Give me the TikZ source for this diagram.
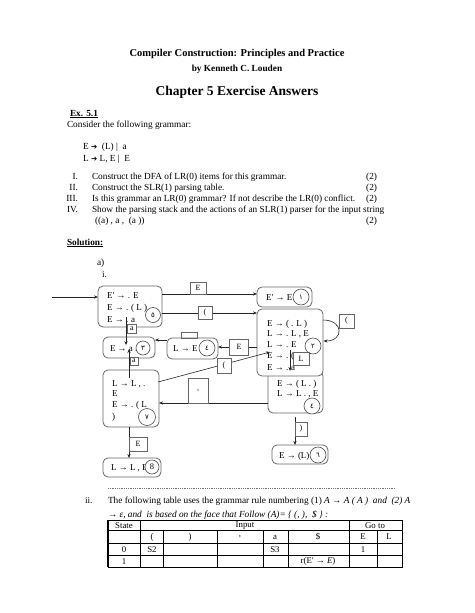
\documentclass[tikz,border=0pt]{standalone}
\usepackage{fontspec}
\setmainfont{Liberation Serif}
\newfontfamily\arabicfont[Script=Arabic]{DejaVu Sans}
\newfontfamily\symbfont{DejaVu Sans}
\usetikzlibrary{arrows.meta,calc}
\begin{document}
\begin{tikzpicture}[x=1pt,y=-1pt,
  every node/.style={inner sep=0pt,outer sep=0pt},
  body/.style={font=\fontsize{9.3}{11}\selectfont, anchor=base west},
  txt/.style={font=\fontsize{9}{10}\selectfont, anchor=base west},
  tcell/.style={font=\fontsize{8.8}{10}\selectfont, anchor=center},
  state/.style={draw=black!60, line width=0.8pt, rounded corners=5pt, fill=white, anchor=north west},
  num/.style={draw=black!70, line width=0.6pt, circle, fill=white, minimum size=15pt, font=\arabicfont\fontsize{7}{7}\selectfont},
  lbl/.style={draw=black!60, line width=0.6pt, fill=white, font=\fontsize{8}{8}\selectfont},
  conn/.style={draw=black!85, line width=0.6pt, -{Stealth[length=4pt,width=3.2pt]}},
]
\useasboundingbox (0,0) rectangle (474,613);
\fill[white] (0,0) rectangle (474,613);

% ---------- header ----------
\node[font=\bfseries\fontsize{10.5}{12}\selectfont, anchor=base] (title) at (237,56) {Compiler Construction: Principles and Practice};
\node[font=\bfseries\fontsize{9.3}{11}\selectfont, anchor=base] (author) at (237,71) {by Kenneth C. Louden};
\node[font=\bfseries\fontsize{13.5}{15}\selectfont, anchor=base] (chap) at (237,95) {Chapter 5 Exercise Answers};
\node[body, font=\bfseries\fontsize{9.3}{11}\selectfont] (ex) at (70,116) {\underline{Ex. 5.1}};
\node[body] (consider) at (67,127) {Consider the following grammar:};
\node[body] (g1) at (83,149) {E {\symbfont\fontsize{7.5}{8}\selectfont ➔} \ (L) | \ a};
\node[body] (g2) at (83,161) {L {\symbfont\fontsize{7.5}{8}\selectfont ➔} L, E | \ E};

\node[body, anchor=base east] (r1) at (78,179) {I.};
\node[body, anchor=base east] (r2) at (78,190) {II.};
\node[body, anchor=base east] (r3) at (78,201) {III.};
\node[body, anchor=base east] (r4) at (78,212) {IV.};
\node[body] (q1) at (92,179) {Construct the DFA of LR(0) items for this grammar.};
\node[body] (q2) at (92,190) {Construct the SLR(1) parsing table.};
\node[body] (q3) at (92,201) {Is this grammar an LR(0) grammar? If not describe the LR(0) conflict.};
\node[body] (q4) at (92,212) {Show the parsing stack and the actions of an SLR(1) parser for the input string};
\node[body] (q5) at (95,223) {((a) , a , \ (a ))};
\node[body, anchor=base east] (m1) at (377,179) {(2)};
\node[body, anchor=base east] (m2) at (377,190) {(2)};
\node[body, anchor=base east] (m3) at (377,201) {(2)};
\node[body, anchor=base east] (m4) at (377,223) {(2)};

\node[body, font=\bfseries\fontsize{9.3}{11}\selectfont] (sol) at (67,245) {\underline{Solution:}};
\node[body] (pa) at (97,265) {a)};
\node[body] (pi) at (102,277) {i.};

% ---------- states ----------
\node[state, minimum width=64pt, minimum height=41pt] (s0) at (98,286) {};
\node[txt] (s0a) at (107,298) {E′ → . E};
\node[txt] (s0b) at (107,310) {E → . ( L )};
\node[txt] (s0c) at (107,322) {E → . a};
\node[num, minimum size=15pt] (c0) at (153,315) {٥};

\node[state, minimum width=55pt, minimum height=20pt] (s1) at (257,287) {};
\node[txt] (s1a) at (266,300) {E′ → E};
\node[num, minimum size=16pt] (c1) at (301,297) {١};

\node[state, minimum width=55pt, minimum height=42pt] (s4) at (268,371) {};
\node[txt] (s4a) at (277,386) {E → ( L . )};
\node[txt] (s4b) at (277,396) {L → L . , E};
\node[num, minimum size=16pt] (c4) at (312,406) {٤};

\node[state, minimum width=66pt, minimum height=67pt] (s2) at (257,309) {};
\node[txt] (s2a) at (267,326) {E → ( . L )};
\node[txt] (s2b) at (267,336) {L → . L , E};
\node[txt] (s2c) at (267,347) {L → . E};
\node[txt] (s2d) at (267,358) {E → . ( L )};
\node[txt] (s2e) at (267,370) {E → . a};
\node[num, minimum size=16pt] (c2) at (313,346) {٢};

\node[state, minimum width=52pt, minimum height=21pt] (s3) at (103,337) {};
\node[txt] (s3a) at (110,351) {E → a .};
\node[num, minimum size=14pt] (c3) at (143,348) {٣};

\node[state, minimum width=51pt, minimum height=21pt] (s5) at (167,338) {};
\node[txt] (s5a) at (173,351) {L → E .};
\node[num, minimum size=16pt] (c5) at (207,348) {٤};
\node[draw=black!60, line width=0.6pt, minimum width=16pt, minimum height=6pt, anchor=south west] (tab) at (181,338) {};

\node[state, minimum width=56pt, minimum height=57pt] (s7) at (103,370) {};
\node[txt] (s7a) at (112,386) {L → L , .};
\node[txt] (s7b) at (112,396) {E};
\node[txt] (s7c) at (112,407) {E → . ( L};
\node[txt] (s7d) at (112,419) {)};
\node[num, minimum size=17pt] (c7) at (147,417) {٧};

\node[state, minimum width=56pt, minimum height=19pt] (s6) at (272,445) {};
\node[txt] (s6a) at (279,458) {E → (L) .};
\node[num, minimum size=16pt] (c6) at (318,455) {٦};

\node[state, minimum width=58pt, minimum height=19pt] (s8) at (103,458) {};
\node[txt] (s8a) at (111,470) {L → L , E .};
\node[num, minimum size=14pt, font=\fontsize{8.5}{8.5}\selectfont] (c8) at (152,467) {8};

% ---------- connectors ----------
\coordinate (start) at (52,297);
\draw[conn] (start) -- (s0.west |- start);

\coordinate (e01) at (162,294);
\draw[conn] (e01) -- (s1.west |- e01);
\node[lbl, minimum width=16pt, minimum height=12pt, anchor=south] (l01) at (198,294.3) {E};

\coordinate (e02) at (162,313);
\draw[conn] (e02) -- (s2.west |- e02);
\node[lbl, minimum width=14pt, minimum height=13pt] (l02) at (205,313) {(};

\coordinate (a03) at (126,317);
\draw[conn] (a03) -- (a03 |- s3a.north);
\node[lbl, minimum width=9pt, minimum height=9pt, anchor=north west] (l03) at (127.5,324) {a};

\coordinate (a73) at (129,378);
\coordinate (b73) at (129,349);
\draw[conn] (a73) -- (b73);
\node[lbl, minimum width=8pt, minimum height=8pt, anchor=north west] (l73) at (130,357) {a};

\coordinate (e53) at (167,340);
\draw[conn] (e53) -- (s3.east |- e53);

\coordinate (e25) at (257,347);
\draw[conn] (e25) -- (s5.east |- e25);
\node[lbl, minimum width=19pt, minimum height=16pt] (l25) at (239,347) {E};

\coordinate (a72) at (158,382);
\coordinate (b72) at (270,352);
\draw[conn] (a72) -- (b72);
\node[lbl, minimum width=14pt, minimum height=15pt] (l72) at (224,365.5) {(};

\coordinate (e47) at (268,403);
\draw[conn] (e47) -- (s7.east |- e47);
\node[lbl, minimum width=20pt, minimum height=25pt, anchor=south west] (l47) at (188,403) {,};

\coordinate (la) at (323,320);
\coordinate (lb) at (323.5,341);
\draw[conn] (la) .. controls (344,320) and (344,341) .. (lb);
\node[lbl, minimum width=15pt, minimum height=14pt] (l22) at (346.5,321) {(};

\coordinate (a24) at (290,350);
\draw[conn] (a24) -- (a24 |- s4.north);
\node[lbl, minimum width=16pt, minimum height=13pt, anchor=north west] (l24) at (293,352) {L};

\coordinate (a46) at (295,417);
\draw[conn] (a46) -- (a46 |- s6.north);
\node[lbl, minimum width=12pt, minimum height=14pt, anchor=north west] (l46) at (295,422) {)};

\coordinate (a78) at (129,427);
\draw[conn] (a78) -- (a78 |- s8.north);
\node[lbl, minimum width=18pt, minimum height=14pt, anchor=north west] (l78) at (129,437) {E};

% ---------- part ii ----------
\draw[black!55, line width=0.6pt, dash pattern=on 1pt off 0.8pt] (108,488) -- (395,488);
\node[body] (pii) at (85,503) {ii.};
\node[body] (p1) at (108,503) {The following table uses the grammar rule numbering (1) \textit{A → A ( A ) \ and \ (2) A}};
\node[body] (p2) at (108,517) {\textit{→ ε, and \ is based on the face that Follow (A)= \{ (, ), \ \$ \} :}};

% table
\draw[black, line width=0.6pt] (108,520) rectangle (402,567);
\draw[black, line width=1.2pt] (108,520) -- (108,567);
\foreach \yy in {530,543,555} \draw[black, line width=0.6pt] (108,\yy) -- (402,\yy);
\foreach \xx in {140,349} \draw[black, line width=0.6pt] (\xx,520) -- (\xx,567);
\foreach \xx in {163,217,263,288,377} \draw[black, line width=0.6pt] (\xx,530) -- (\xx,567);
\node[tcell] (hs) at (124,525.5) {State};
\node[tcell] (hi) at (245,525.5) {Input};
\node[tcell] (hg) at (375,525.5) {Go to};
\node[tcell] (h1) at (152,537) {(};
\node[tcell] (h2) at (190,537) {)};
\node[tcell] (h3) at (240,537) {,};
\node[tcell] (h4) at (275,537) {a};
\node[tcell] (h5) at (318,537) {\$};
\node[tcell] (h6) at (363,537) {E};
\node[tcell] (h7) at (389,537) {L};
\node[tcell] (r0s) at (124,549.5) {0};
\node[tcell] (r0a) at (152,549.5) {S2};
\node[tcell] (r0b) at (275,549.5) {S3};
\node[tcell] (r0c) at (363,549.5) {1};
\node[tcell] (r1s) at (124,561.5) {1};
\node[tcell] (r1a) at (318,561.5) {r(E′ → \textit{E})};
\end{tikzpicture}
\end{document}
